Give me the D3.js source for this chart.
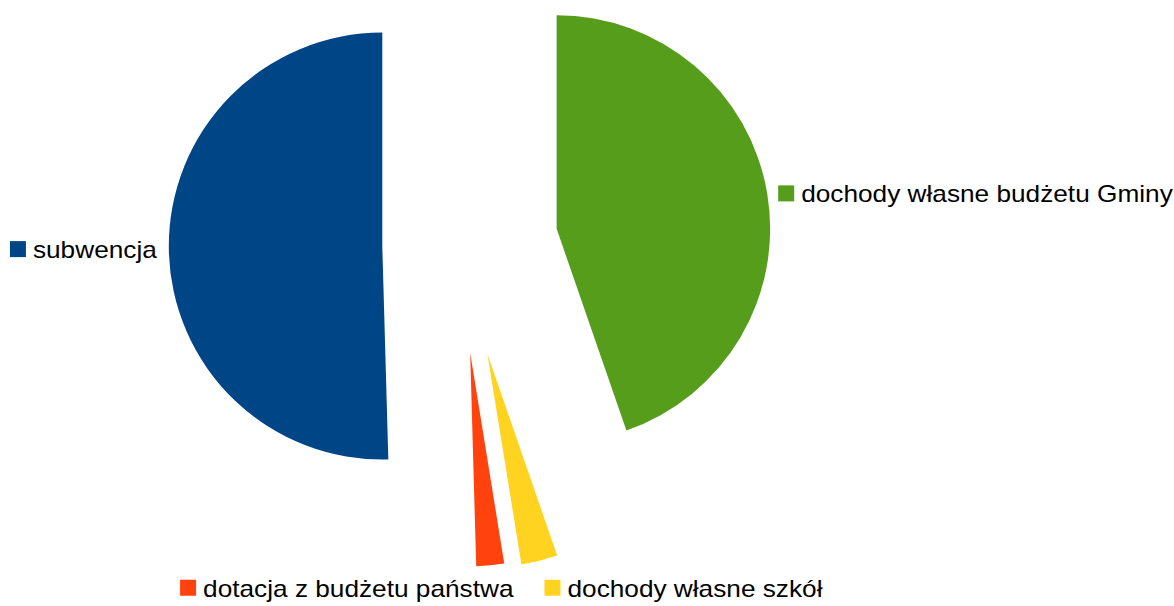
<!DOCTYPE html>
<html>
<head>
<meta charset="utf-8">
<script src="https://cdn.jsdelivr.net/npm/d3@7"></script>
<style>
  html, body { margin: 0; padding: 0; background: #fff; }
  svg { display: block; }
  text { font-family: "Liberation Sans", Arial, sans-serif; font-size: 23px; fill: #000; }
</style>
</head>
<body>
<svg id="chart" width="1174" height="606"></svg>
<script>
// DATA (LibreOffice order, counter-clockwise from 12 o'clock)
const categories = [
  "subwencja",
  "dotacja z budżetu państwa",
  "dochody własne szkół",
  "dochody własne budżetu Gminy",
];
const shares = [50.45, 2.1, 2.75, 44.7];
const colors = ["#004586", "#ff420e", "#ffd320", "#579d1c"];
// explode offset of each slice, as a fraction of the radius
const explode = [0.364, 0.507, 0.525, 0.459];

// LAYOUT
const width = 1174;
const height = 606;
const cx = 460;
const cy = 245;
const radius = 213.5;
const textScale = 1.14;

const svg = d3.select("#chart");

const pie = d3.pie()
  .sort(null)
  .value(d => d)
  .startAngle(2 * Math.PI)
  .endAngle(0);

const arc = d3.arc().innerRadius(0).outerRadius(radius);

const slices = pie(shares).map((p, i) => {
  const mid = (p.startAngle + p.endAngle) / 2;
  const ux = Math.sin(mid);
  const uy = -Math.cos(mid);
  const off = explode[i] * radius;
  return {
    ...p,
    i,
    ux,
    uy,
    vx: cx + ux * off,
    vy: cy + uy * off,
  };
});

svg.selectAll(".slice")
  .data(slices)
  .enter()
  .append("path")
  .attr("class", "slice")
  .attr("transform", d => `translate(${d.vx},${d.vy})`)
  .attr("d", arc)
  .attr("fill", d => colors[d.i]);

// LABELS
const sq = 16;
const gap = 7;

const labels = svg.selectAll(".label")
  .data(slices)
  .enter()
  .append("g")
  .attr("class", "label");

labels.append("rect")
  .attr("width", sq)
  .attr("height", sq)
  .attr("fill", d => colors[d.i]);

labels.append("text")
  .attr("transform", `scale(${textScale},1)`)
  .attr("y", sq / 2 + 9)
  .attr("x", (sq + gap) / textScale)
  .text(d => categories[d.i]);

const widths = [];
labels.each(function (d) {
  const t = d3.select(this).select("text").node();
  widths[d.i] = sq + gap + t.getComputedTextLength() * textScale;
});

// place each label next to the outer point of its slice
const pos = {};
slices.forEach(d => {
  const px = d.vx + d.ux * radius;
  const py = d.vy + d.uy * radius;
  if (d.ux < -0.5) {
    pos[d.i] = [px - 12 - widths[d.i], py - sq / 2];
  } else if (d.ux > 0.5) {
    pos[d.i] = [px + 11, py - sq / 2];
  } else {
    pos[d.i] = [px + 5, py + 27 - sq / 2];
  }
});
// bottom labels side by side: the left one ends before the right one
const bottom = slices.filter(d => Math.abs(d.ux) <= 0.5).sort((a, b) => b.ux - a.ux);
for (let k = 1; k < bottom.length; k++) {
  const right = pos[bottom[k - 1].i];
  pos[bottom[k].i] = [right[0] - 31 - widths[bottom[k].i], right[1]];
}

labels.attr("transform", d => `translate(${pos[d.i][0]},${pos[d.i][1]})`);
</script>
</body>
</html>
